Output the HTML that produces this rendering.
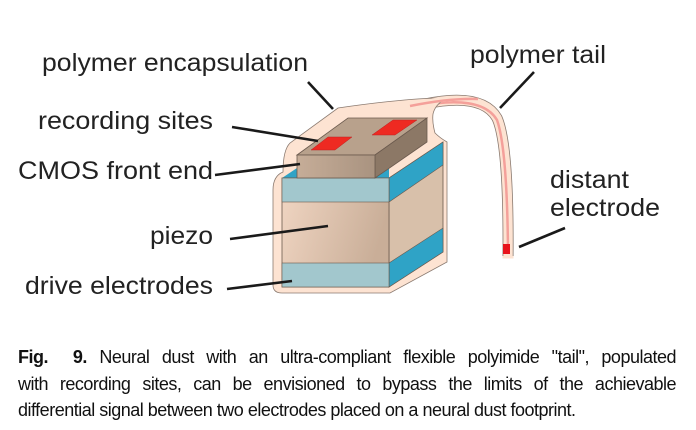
<!DOCTYPE html>
<html><head><meta charset="utf-8"><style>
html,body{margin:0;padding:0;background:#fff;width:696px;height:430px;overflow:hidden}
svg{position:absolute;left:0;top:0}
.cap{position:absolute;left:18px;top:344px;width:658px;font-family:"Liberation Sans",sans-serif;font-size:18px;letter-spacing:-0.5px;line-height:26.5px;color:#111}
.cap div{text-align:justify;text-align-last:justify;white-space:nowrap}
.cap div.l{text-align-last:left}
</style></head><body>
<svg width="696" height="430" viewBox="0 0 696 430">
<defs>
<linearGradient id="pz" x1="0" y1="0" x2="1" y2="0.3"><stop offset="0" stop-color="#f1d6c3"/><stop offset="1" stop-color="#c9ae98"/></linearGradient>
<linearGradient id="cm" x1="0" y1="0" x2="1" y2="0"><stop offset="0" stop-color="#c6ad98"/><stop offset="1" stop-color="#a99380"/></linearGradient>
</defs>
<path d="M425,104 Q482,92 497,118 Q509,145 508,258" fill="none" stroke="#8a7a70" stroke-width="11"/>
<path d="M425,104 Q482,92 497,118 Q509,145 508,258" fill="none" stroke="#fde3d2" stroke-width="9.4"/>
<path d="M418,106 Q482,94 497,120 Q507,148 508,250" fill="none" stroke="#f4a09a" stroke-width="2.5"/>
<rect x="502.5" y="256" width="11" height="2.5" fill="#fde3d2"/>
<path d="M283,172 Q273,176 273,190 L273,285 Q273,293 282,293 L390,293 L447,262 L447,142 Q440,138 435,133 Q432,122 433,114 Q435,105 444,100 L438,98 Q400,99 338,108 L290,143 Q283,150 283,172 Z" fill="#fde3d2" stroke="#8a7a70" stroke-width="0.8"/>
<path d="M432,101 Q455,97 470,99" fill="none" stroke="#fde3d2" stroke-width="5"/>
<path d="M410,106 Q450,98 478,99" fill="none" stroke="#f4a09a" stroke-width="2.5"/>
<polygon points="389,178 443,142 443,252 389,287" fill="#d8c0aa" stroke="#6b5a4e" stroke-width="0.8"/>
<polygon points="389,178 443,142 443,165 389,202" fill="#2fa3c6" stroke="#6b5a4e" stroke-width="0.6"/>
<polygon points="389,263 443,228 443,252 389,287" fill="#2fa3c6" stroke="#6b5a4e" stroke-width="0.6"/>
<polygon points="282,178 297,168 389,168 389,178" fill="#2fa3c6"/>
<rect x="282" y="178" width="107" height="109" fill="url(#pz)" stroke="#6b5a4e" stroke-width="0.8"/>
<rect x="282" y="178" width="107" height="24" fill="#a2c7cd" stroke="#6b5a4e" stroke-width="0.6"/>
<rect x="282" y="263" width="107" height="24" fill="#a2c7cd" stroke="#6b5a4e" stroke-width="0.6"/>
<polygon points="297,155 348,118 427,118 375,155" fill="#b8a18c" stroke="#6b5a4e" stroke-width="0.8"/>
<polygon points="375,155 427,118 427,142 375,178" fill="#8c7866" stroke="#6b5a4e" stroke-width="0.8"/>
<rect x="297" y="155" width="78" height="23" fill="url(#cm)" stroke="#6b5a4e" stroke-width="0.8"/>
<polygon points="311,150 335,150 352,137 328,137" fill="#ee2a22" stroke="#b22" stroke-width="0.5"/>
<polygon points="372,135 395,135 417,120 393,120" fill="#ee2a22" stroke="#b22" stroke-width="0.5"/>
<rect x="503" y="244" width="7" height="10" fill="#e8141c"/>
<g stroke="#1a1a1a" stroke-width="2.6">
<line x1="308" y1="82" x2="333" y2="109"/>
<line x1="534" y1="72" x2="500" y2="108"/>
<line x1="232" y1="127" x2="318" y2="141"/>
<line x1="215" y1="175" x2="300" y2="164"/>
<line x1="230" y1="239" x2="328" y2="226"/>
<line x1="227" y1="289" x2="292" y2="281"/>
<line x1="519" y1="247" x2="565" y2="228"/>
</g>
<g font-family="Liberation Sans, sans-serif" font-size="25" fill="#222">
<text x="42" y="71" textLength="266" lengthAdjust="spacingAndGlyphs">polymer encapsulation</text>
<text x="38" y="129" textLength="175" lengthAdjust="spacingAndGlyphs">recording sites</text>
<text x="18" y="179" textLength="195" lengthAdjust="spacingAndGlyphs">CMOS front end</text>
<text x="150" y="244" textLength="63" lengthAdjust="spacingAndGlyphs">piezo</text>
<text x="25" y="294" textLength="188" lengthAdjust="spacingAndGlyphs">drive electrodes</text>
<text x="470" y="63" textLength="136" lengthAdjust="spacingAndGlyphs">polymer tail</text>
<text x="550" y="188" textLength="79" lengthAdjust="spacingAndGlyphs">distant</text>
<text x="550" y="216" textLength="110" lengthAdjust="spacingAndGlyphs">electrode</text>
</g>
</svg>
<div class="cap">
<div><b>Fig.&nbsp; 9.</b> Neural dust with an ultra-compliant flexible polyimide "tail", populated</div>
<div>with recording sites, can be envisioned to bypass the limits of the achievable</div>
<div class="l">differential signal between two electrodes placed on a neural dust footprint.</div>
</div>
</body></html>
